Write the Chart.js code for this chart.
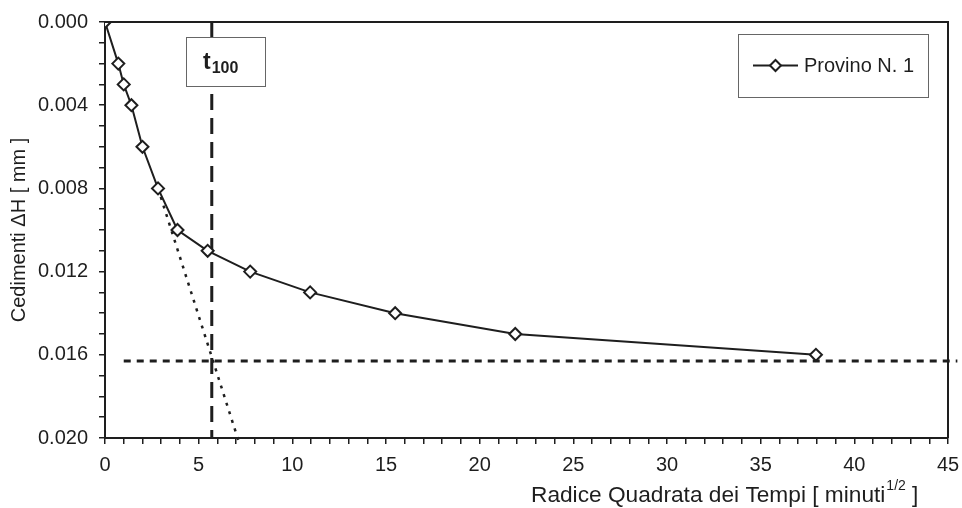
<!DOCTYPE html>
<html>
<head>
<meta charset="utf-8">
<script src="https://cdn.jsdelivr.net/npm/chart.js@4.4.0/dist/chart.umd.min.js"></script>
<style>
  html, body { margin: 0; padding: 0; background: #fff; }
</style>
</head>
<body>
<canvas id="chart" width="962" height="508"></canvas>
<script>
// square root of time [minuti^1/2] and settlement [mm]
const sqrtTime = [0, 0.71, 1.0, 1.41, 2.0, 2.83, 3.87, 5.48, 7.75, 10.95, 15.49, 21.9, 37.95];
const settlement = [0, 0.002, 0.003, 0.004, 0.006, 0.008, 0.010, 0.011, 0.012, 0.013, 0.014, 0.015, 0.016];

// construction lines
const tangentX = [2.83, 7.15];
const tangentY = [0.008, 0.0202];
const finalX = [1.0, 45.5];
const finalY = [0.0163, 0.0163];
const t100X = [5.7, 5.7];
const t100Y = [0, 0.020];

const xTickLabels = ["0", "5", "10", "15", "20", "25", "30", "35", "40", "45"];
const yTickLabels = ["0.000", "0.004", "0.008", "0.012", "0.016", "0.020"];

const seriesName = "Provino N. 1";
const FONT = "'Liberation Sans', Arial, sans-serif";
const INK = "#1e1e1e";

const toPoints = (xs, ys) => xs.map((x, i) => ({ x: x, y: ys[i] }));

// frame, t100 label, legend and axis titles
const decorations = {
  id: "decorations",
  afterDraw(chart) {
    const ctx = chart.ctx;
    const a = chart.chartArea;
    ctx.save();

    // top and right edges of the plot box
    ctx.strokeStyle = INK;
    ctx.lineWidth = 2;
    ctx.beginPath();
    ctx.moveTo(a.left, a.top);
    ctx.lineTo(a.right, a.top);
    ctx.lineTo(a.right, a.bottom);
    ctx.stroke();

    // t100 box
    ctx.fillStyle = "#fff";
    ctx.fillRect(186, 37, 80, 50);
    ctx.strokeStyle = "#666";
    ctx.lineWidth = 1;
    ctx.strokeRect(186.5, 37.5, 79, 49);
    ctx.fillStyle = INK;
    ctx.textBaseline = "alphabetic";
    ctx.textAlign = "left";
    ctx.font = "bold 23px " + FONT;
    ctx.fillText("t", 203, 69);
    const tw = ctx.measureText("t").width;
    ctx.font = "bold 16px " + FONT;
    ctx.fillText("100", 203 + tw + 1, 73);

    // legend
    ctx.fillStyle = "#fff";
    ctx.fillRect(738, 34, 190, 63);
    ctx.strokeStyle = "#666";
    ctx.lineWidth = 1;
    ctx.strokeRect(738.5, 34.5, 190, 63);
    ctx.strokeStyle = INK;
    ctx.lineWidth = 2;
    ctx.beginPath();
    ctx.moveTo(753, 65.5);
    ctx.lineTo(798, 65.5);
    ctx.stroke();
    ctx.fillStyle = "#fff";
    ctx.beginPath();
    ctx.moveTo(775.5 - 5.5, 65.5);
    ctx.lineTo(775.5, 60);
    ctx.lineTo(775.5 + 5.5, 65.5);
    ctx.lineTo(775.5, 71);
    ctx.closePath();
    ctx.fill();
    ctx.stroke();
    ctx.fillStyle = INK;
    ctx.font = "20px " + FONT;
    ctx.textBaseline = "middle";
    ctx.fillText(chart.data.datasets[0].label, 804, 66);

    // y title
    ctx.save();
    ctx.translate(19, 230);
    ctx.rotate(-Math.PI / 2);
    ctx.textAlign = "center";
    ctx.textBaseline = "middle";
    ctx.font = "20px " + FONT;
    ctx.fillText("Cedimenti \u0394H [ mm ]", 0, 0);
    ctx.restore();

    // x title with superscript
    const main = "Radice Quadrata dei Tempi [ minuti";
    const sup = "1/2";
    const end = " ]";
    ctx.textAlign = "left";
    ctx.textBaseline = "alphabetic";
    let x = 531;
    ctx.font = "22.7px " + FONT;
    ctx.fillText(main, x, 502);
    x += ctx.measureText(main).width + 1;
    ctx.font = "14px " + FONT;
    ctx.fillText(sup, x, 490);
    x += ctx.measureText(sup).width;
    ctx.font = "22.7px " + FONT;
    ctx.fillText(end, x, 502);

    ctx.restore();
  }
};

new Chart(document.getElementById("chart"), {
  type: "line",
  data: {
    datasets: [
      {
        label: seriesName,
        data: toPoints(sqrtTime, settlement),
        borderColor: INK,
        borderWidth: 2,
        pointStyle: "rectRot",
        pointRadius: 6,
        pointBorderWidth: 2,
        pointBackgroundColor: "#fff",
        pointBorderColor: INK,
        tension: 0,
        order: 0
      },
      {
        label: "tangente",
        data: toPoints(tangentX, tangentY),
        borderColor: INK,
        borderWidth: 2.5,
        borderDash: [3, 6],
        pointRadius: 0,
        clip: false,
        order: 1
      },
      {
        label: "finale",
        data: toPoints(finalX, finalY),
        borderColor: INK,
        borderWidth: 3,
        borderDash: [7, 6],
        pointRadius: 0,
        clip: false,
        order: 2
      },
      {
        label: "t100",
        data: toPoints(t100X, t100Y),
        borderColor: INK,
        borderWidth: 3,
        borderDash: [16, 8],
        pointRadius: 0,
        order: 3
      }
    ]
  },
  options: {
    responsive: false,
    animation: false,
    devicePixelRatio: 1,
    layout: { padding: { left: 0, top: 22, right: 14, bottom: 0 } },
    plugins: {
      legend: { display: false },
      tooltip: { enabled: false }
    },
    scales: {
      x: {
        type: "linear",
        min: 0,
        max: 45,
        afterFit: (s) => { s.height = 70; s.paddingLeft = 0; s.paddingRight = 0; },
        border: { display: true, color: INK, width: 2 },
        grid: { drawOnChartArea: false, drawTicks: true, tickLength: 6, color: INK, lineWidth: 1.5 },
        ticks: {
          stepSize: 1,
          autoSkip: false,
          maxRotation: 0,
          padding: 9,
          color: INK,
          font: { family: FONT, size: 20 },
          callback: (v) => {
            const k = Math.round(v);
            return k % 5 === 0 ? xTickLabels[k / 5] : "";
          }
        }
      },
      y: {
        type: "linear",
        reverse: true,
        min: 0,
        max: 0.020,
        afterFit: (s) => { s.width = 105; s.paddingTop = 0; s.paddingBottom = 0; },
        border: { display: true, color: INK, width: 2 },
        grid: { drawOnChartArea: false, drawTicks: true, tickLength: 6, color: INK, lineWidth: 1.5 },
        ticks: {
          stepSize: 0.001,
          autoSkip: false,
          padding: 11,
          color: INK,
          font: { family: FONT, size: 20 },
          callback: (v) => {
            const k = Math.round(v * 1000);
            return k % 4 === 0 ? yTickLabels[k / 4] : "";
          }
        }
      }
    }
  },
  plugins: [decorations]
});
</script>
</body>
</html>
